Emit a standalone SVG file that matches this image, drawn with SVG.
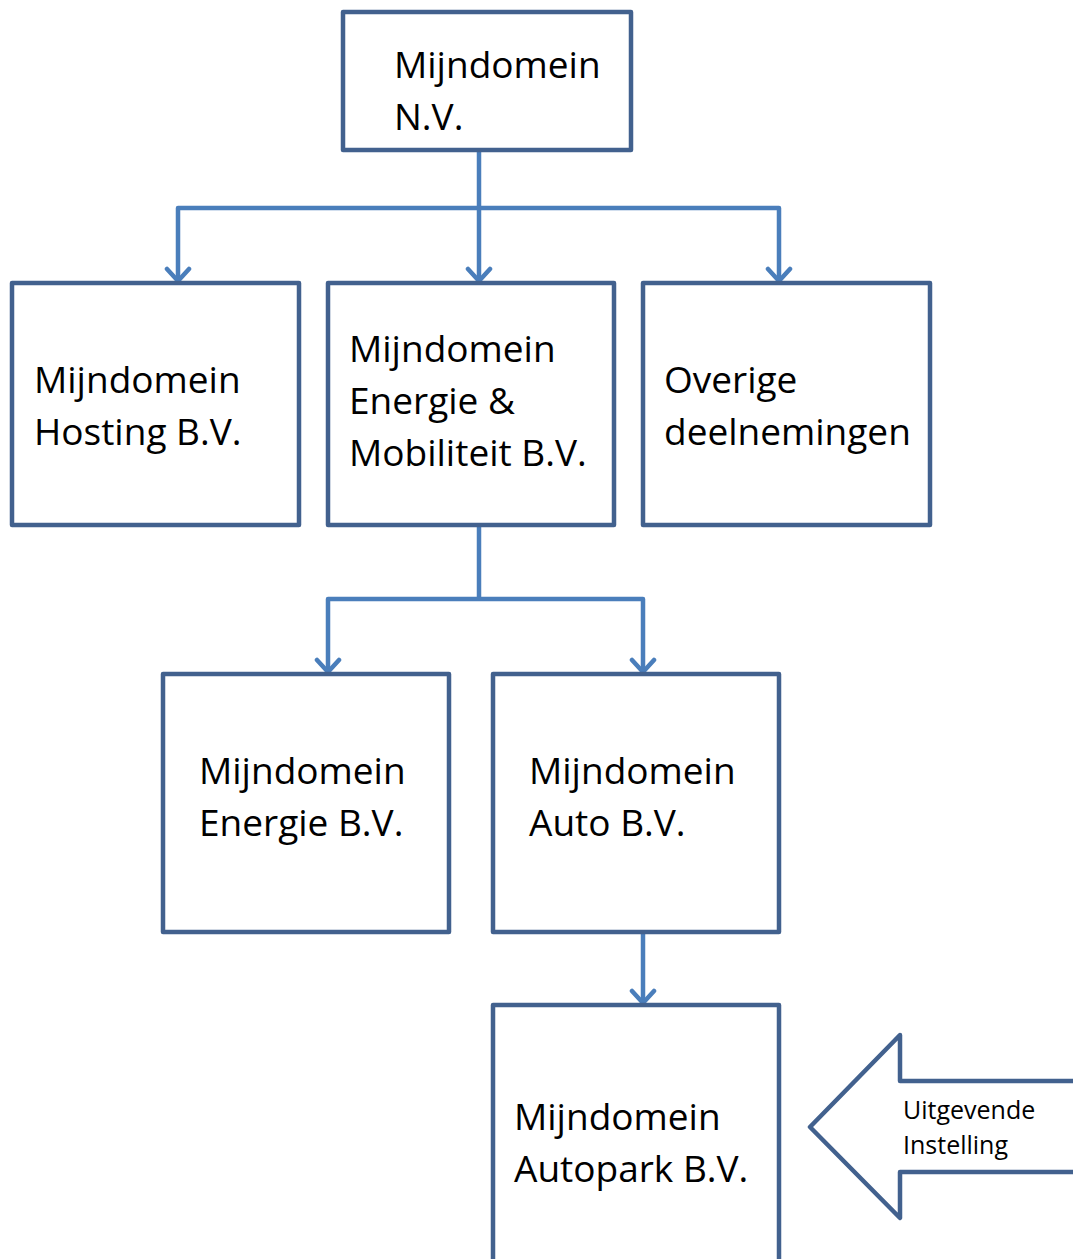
<svg xmlns="http://www.w3.org/2000/svg" width="1073" height="1259" viewBox="0 0 1073 1259">
<defs>
<style>
.box{fill:#ffffff;stroke:#42618e;stroke-width:4.5;stroke-linejoin:round}
.con{fill:none;stroke:#4a7ebb;stroke-width:4.5;stroke-linejoin:round}
.t{font-family:"Open Sans","Noto Sans",sans-serif;font-size:37px;fill:#000}
.s{font-family:"Open Sans","Noto Sans",sans-serif;font-size:25px;fill:#000}
</style>
<marker id="ah" markerUnits="userSpaceOnUse" viewBox="-16 -14 18 28" refX="0" refY="0" markerWidth="18" markerHeight="28" orient="auto">
<path d="M-12,-11 L0,0 L-12,11" fill="none" stroke="#4a7ebb" stroke-width="4.5" stroke-linecap="round" stroke-linejoin="round"/>
</marker>
</defs>
<rect width="1073" height="1259" fill="#ffffff"/>
<g id="connectors">
<path class="con" d="M479,150 V208"/>
<path class="con" d="M479,208 H178 V281" marker-end="url(#ah)"/>
<path class="con" d="M479,208 V281" marker-end="url(#ah)"/>
<path class="con" d="M479,208 H779 V281" marker-end="url(#ah)"/>
<path class="con" d="M479,525 V599"/>
<path class="con" d="M479,599 H328 V672" marker-end="url(#ah)"/>
<path class="con" d="M479,599 H643 V672" marker-end="url(#ah)"/>
<path class="con" d="M643,932 V1003" marker-end="url(#ah)"/>
</g>
<g id="n-nv">
<rect class="box" x="343" y="12" width="288" height="138"/>
<text class="t" x="394" y="78">Mijndomein</text>
<text class="t" x="394" y="130">N.V.</text>
</g>
<g id="n-hosting">
<rect class="box" x="12" y="283" width="287" height="242"/>
<text class="t" x="34" y="393">Mijndomein</text>
<text class="t" x="34" y="445">Hosting B.V.</text>
</g>
<g id="n-em">
<rect class="box" x="328" y="283" width="286" height="242"/>
<text class="t" x="349" y="362">Mijndomein</text>
<text class="t" x="349" y="414">Energie &amp;</text>
<text class="t" x="349" y="466">Mobiliteit B.V.</text>
</g>
<g id="n-overige">
<rect class="box" x="643" y="283" width="287" height="242"/>
<text class="t" x="664" y="393">Overige</text>
<text class="t" x="664" y="445">deelnemingen</text>
</g>
<g id="n-energie">
<rect class="box" x="163" y="674" width="286" height="258"/>
<text class="t" x="199" y="784">Mijndomein</text>
<text class="t" x="199" y="836">Energie B.V.</text>
</g>
<g id="n-auto">
<rect class="box" x="493" y="674" width="286" height="258"/>
<text class="t" x="529" y="784">Mijndomein</text>
<text class="t" x="529" y="836">Auto B.V.</text>
</g>
<g id="n-autopark">
<rect class="box" x="493" y="1005" width="286" height="280"/>
<text class="t" x="514" y="1130">Mijndomein</text>
<text class="t" x="514" y="1182">Autopark B.V.</text>
</g>
<g id="n-uitgevende">
<path class="box" d="M1080,1081 H900 V1035 L810,1127 L900,1218 V1172 H1080"/>
<text class="s" x="903" y="1119">Uitgevende</text>
<text class="s" x="903" y="1154">Instelling</text>
</g>
</svg>
